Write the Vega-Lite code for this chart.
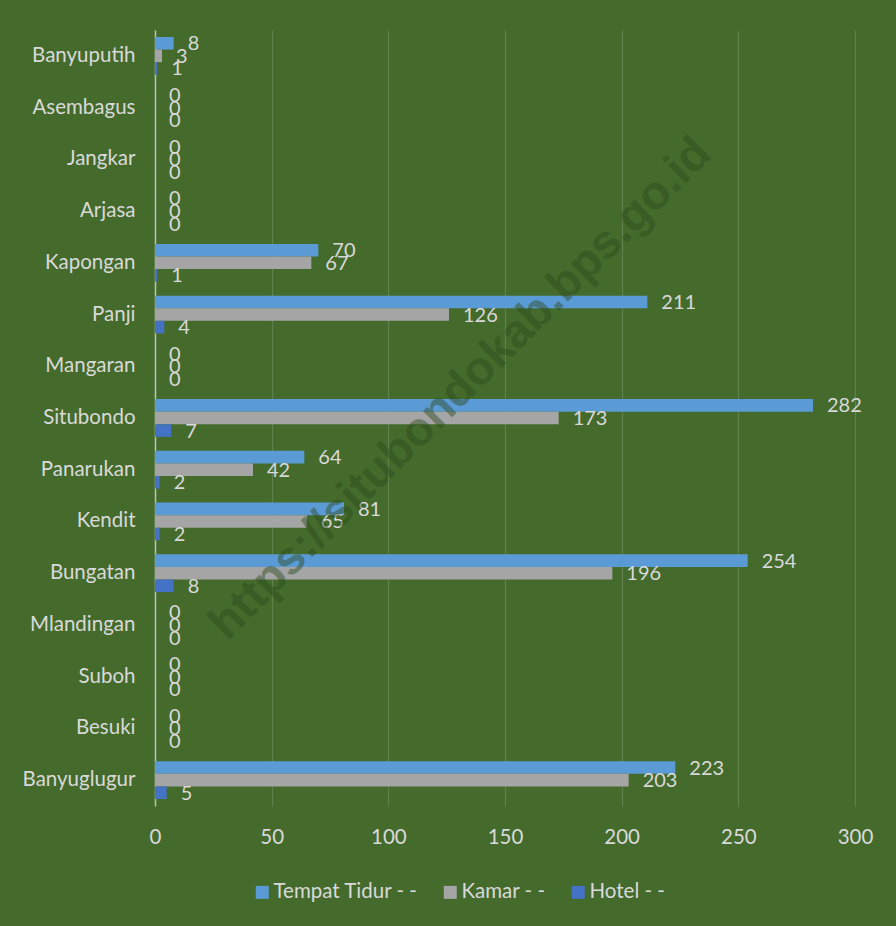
{
  "$schema": "https://vega.github.io/schema/vega-lite/v6.json",
  "width": 700,
  "height": 776,
  "autosize": "none",
  "padding": {"left": 155, "top": 30, "right": 41, "bottom": 120},
  "background": "#446b2c",
  "config": {
    "view": {"stroke": null},
    "font": "Lato",
    "axis": {"labelFont": "Lato", "labelColor": "#d9d9d9", "labelFontSize": 20.5},
    "legend": {"labelFont": "Lato", "labelColor": "#d9d9d9", "labelFontSize": 20.5}
  },
  "datasets": {
    "hotel": [
      {"kec": "Banyuputih", "seri": "Tempat Tidur - -", "nilai": 8},
      {"kec": "Banyuputih", "seri": "Kamar - -", "nilai": 3},
      {"kec": "Banyuputih", "seri": "Hotel - -", "nilai": 1},
      {"kec": "Asembagus", "seri": "Tempat Tidur - -", "nilai": 0},
      {"kec": "Asembagus", "seri": "Kamar - -", "nilai": 0},
      {"kec": "Asembagus", "seri": "Hotel - -", "nilai": 0},
      {"kec": "Jangkar", "seri": "Tempat Tidur - -", "nilai": 0},
      {"kec": "Jangkar", "seri": "Kamar - -", "nilai": 0},
      {"kec": "Jangkar", "seri": "Hotel - -", "nilai": 0},
      {"kec": "Arjasa", "seri": "Tempat Tidur - -", "nilai": 0},
      {"kec": "Arjasa", "seri": "Kamar - -", "nilai": 0},
      {"kec": "Arjasa", "seri": "Hotel - -", "nilai": 0},
      {"kec": "Kapongan", "seri": "Tempat Tidur - -", "nilai": 70},
      {"kec": "Kapongan", "seri": "Kamar - -", "nilai": 67},
      {"kec": "Kapongan", "seri": "Hotel - -", "nilai": 1},
      {"kec": "Panji", "seri": "Tempat Tidur - -", "nilai": 211},
      {"kec": "Panji", "seri": "Kamar - -", "nilai": 126},
      {"kec": "Panji", "seri": "Hotel - -", "nilai": 4},
      {"kec": "Mangaran", "seri": "Tempat Tidur - -", "nilai": 0},
      {"kec": "Mangaran", "seri": "Kamar - -", "nilai": 0},
      {"kec": "Mangaran", "seri": "Hotel - -", "nilai": 0},
      {"kec": "Situbondo", "seri": "Tempat Tidur - -", "nilai": 282},
      {"kec": "Situbondo", "seri": "Kamar - -", "nilai": 173},
      {"kec": "Situbondo", "seri": "Hotel - -", "nilai": 7},
      {"kec": "Panarukan", "seri": "Tempat Tidur - -", "nilai": 64},
      {"kec": "Panarukan", "seri": "Kamar - -", "nilai": 42},
      {"kec": "Panarukan", "seri": "Hotel - -", "nilai": 2},
      {"kec": "Kendit", "seri": "Tempat Tidur - -", "nilai": 81},
      {"kec": "Kendit", "seri": "Kamar - -", "nilai": 65},
      {"kec": "Kendit", "seri": "Hotel - -", "nilai": 2},
      {"kec": "Bungatan", "seri": "Tempat Tidur - -", "nilai": 254},
      {"kec": "Bungatan", "seri": "Kamar - -", "nilai": 196},
      {"kec": "Bungatan", "seri": "Hotel - -", "nilai": 8},
      {"kec": "Mlandingan", "seri": "Tempat Tidur - -", "nilai": 0},
      {"kec": "Mlandingan", "seri": "Kamar - -", "nilai": 0},
      {"kec": "Mlandingan", "seri": "Hotel - -", "nilai": 0},
      {"kec": "Suboh", "seri": "Tempat Tidur - -", "nilai": 0},
      {"kec": "Suboh", "seri": "Kamar - -", "nilai": 0},
      {"kec": "Suboh", "seri": "Hotel - -", "nilai": 0},
      {"kec": "Besuki", "seri": "Tempat Tidur - -", "nilai": 0},
      {"kec": "Besuki", "seri": "Kamar - -", "nilai": 0},
      {"kec": "Besuki", "seri": "Hotel - -", "nilai": 0},
      {"kec": "Banyuglugur", "seri": "Tempat Tidur - -", "nilai": 223},
      {"kec": "Banyuglugur", "seri": "Kamar - -", "nilai": 203},
      {"kec": "Banyuglugur", "seri": "Hotel - -", "nilai": 5}
    ],
    "wm": [
      {"teks": "https://situbondokab.bps.go.id", "nilai": 131, "kec": "Mangaran"}
    ]
  },
  "layer": [
    {
      "data": {"name": "hotel"},
      "mark": {"type": "bar"},
      "encoding": {
        "y": {
          "field": "kec", "type": "nominal",
          "sort": ["Banyuputih","Asembagus","Jangkar","Arjasa","Kapongan","Panji","Mangaran","Situbondo","Panarukan","Kendit","Bungatan","Mlandingan","Suboh","Besuki","Banyuglugur"],
          "scale": {"paddingInner": 0.27, "paddingOuter": 0.135},
          "axis": {"title": null, "ticks": false, "labelPadding": 20, "domainColor": "#b8c4ae", "domainWidth": 1.5}
        },
        "yOffset": {
          "field": "seri", "type": "nominal",
          "sort": ["Tempat Tidur - -", "Kamar - -", "Hotel - -"]
        },
        "x": {
          "field": "nilai", "type": "quantitative",
          "scale": {"domain": [0, 300], "nice": false},
          "axis": {"title": null, "values": [0,50,100,150,200,250,300], "domain": false, "ticks": false, "labelFlush": false, "labelPadding": 21, "gridColor": "#ffffff", "gridOpacity": 0.15, "gridWidth": 1.2}
        },
        "color": {
          "field": "seri", "type": "nominal",
          "sort": ["Tempat Tidur - -", "Kamar - -", "Hotel - -"],
          "scale": {"domain": ["Tempat Tidur - -", "Kamar - -", "Hotel - -"], "range": ["#5b9bd5", "#a5a5a5", "#4472c4"]},
          "legend": {"title": null, "orient": "none", "direction": "horizontal", "legendX": 97, "legendY": 852, "symbolType": "square", "symbolSize": 169, "symbolStrokeWidth": 0, "labelOffset": 1, "columnPadding": 22, "padding": 0}
        }
      }
    },
    {
      "data": {"name": "hotel"},
      "mark": {"type": "text", "align": "left", "baseline": "middle", "dx": 14, "dy": 1, "fontSize": 20, "color": "#d9d9d9", "font": "Lato"},
      "encoding": {
        "y": {"field": "kec", "type": "nominal", "sort": ["Banyuputih","Asembagus","Jangkar","Arjasa","Kapongan","Panji","Mangaran","Situbondo","Panarukan","Kendit","Bungatan","Mlandingan","Suboh","Besuki","Banyuglugur"]},
        "yOffset": {"field": "seri", "type": "nominal", "sort": ["Tempat Tidur - -", "Kamar - -", "Hotel - -"]},
        "x": {"field": "nilai", "type": "quantitative"},
        "text": {"field": "nilai", "type": "quantitative"}
      }
    },
    {
      "data": {"name": "wm"},
      "mark": {"type": "text", "align": "center", "baseline": "middle", "angle": -45, "dx": -16, "dy": 16, "fontSize": 47, "fontWeight": "bold", "font": "Liberation Sans", "color": "#2c4a1d", "opacity": 0.45},
      "encoding": {
        "x": {"field": "nilai", "type": "quantitative"},
        "y": {"field": "kec", "type": "nominal", "sort": ["Banyuputih","Asembagus","Jangkar","Arjasa","Kapongan","Panji","Mangaran","Situbondo","Panarukan","Kendit","Bungatan","Mlandingan","Suboh","Besuki","Banyuglugur"]},
        "text": {"field": "teks", "type": "nominal"}
      }
    }
  ]
}
